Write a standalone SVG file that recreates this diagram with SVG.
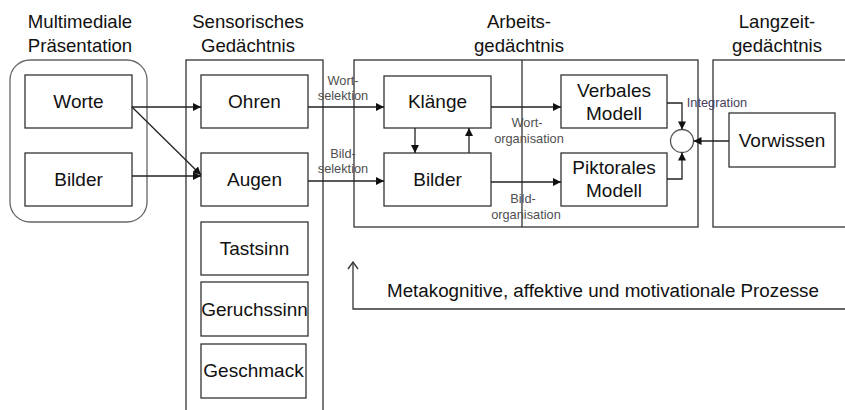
<svg xmlns="http://www.w3.org/2000/svg" width="845" height="410" viewBox="0 0 845 410">
<style>
text{font-family:"Liberation Sans",Arial,sans-serif;fill:#111}
.t{font-size:18.6px;text-anchor:middle}
.b{font-size:19px;text-anchor:middle}
.s{font-size:12.8px;text-anchor:middle;fill:#505050}
.box{fill:#fff;stroke:#333;stroke-width:1.3}
.cont{fill:none;stroke:#333;stroke-width:1.3}
.c{fill:none;stroke:#222;stroke-width:1.3}
</style>
<defs>
<marker id="ah" viewBox="0 0 10 10" refX="10" refY="5" markerWidth="9" markerHeight="8" markerUnits="userSpaceOnUse" orient="auto">
<path d="M0,0 L10,5 L0,10 z" fill="#111"/>
</marker>
<marker id="open" viewBox="0 0 12 10" refX="6" refY="1" markerWidth="12" markerHeight="10" markerUnits="userSpaceOnUse" orient="0">
<path d="M1,8 L6,1 L11,8" fill="none" stroke="#333" stroke-width="1.3"/>
</marker>
</defs>
<rect width="845" height="410" fill="#fff"/>

<g id="titles">
<text class="t" x="80" y="28">Multimediale</text>
<text class="t" x="80" y="52">Präsentation</text>
<text class="t" x="248" y="28">Sensorisches</text>
<text class="t" x="248" y="52">Gedächtnis</text>
<text class="t" x="519" y="28">Arbeits-</text>
<text class="t" x="519" y="52">gedächtnis</text>
<text class="t" x="777" y="28">Langzeit-</text>
<text class="t" x="777" y="52">gedächtnis</text>
</g>

<g id="containers">
<rect id="multimedia" class="cont" x="10" y="60" width="137" height="162" rx="20" ry="20" style="stroke:#666"/>
<rect id="sensorisch" class="cont" x="186" y="60" width="137" height="360"/>
<rect id="arbeit" class="cont" x="354" y="60" width="344" height="167"/>
<line class="cont" x1="522" y1="60" x2="522" y2="227"/>
<rect id="langzeit" class="cont" x="713" y="60" width="140" height="167"/>
</g>

<g id="worte"><rect class="box" x="25" y="75" width="107" height="53"/><text class="b" x="78.5" y="108">Worte</text></g>
<g id="bilder1"><rect class="box" x="25" y="153" width="107" height="53"/><text class="b" x="78.5" y="186">Bilder</text></g>
<g id="ohren"><rect class="box" x="201" y="75" width="107" height="53"/><text class="b" x="254.5" y="108">Ohren</text></g>
<g id="augen"><rect class="box" x="201" y="153" width="107" height="53"/><text class="b" x="254.5" y="186">Augen</text></g>
<g id="tastsinn"><rect class="box" x="201" y="222" width="107" height="53"/><text class="b" x="254.5" y="255">Tastsinn</text></g>
<g id="geruchssinn"><rect class="box" x="201" y="282" width="107" height="54"/><text class="b" x="254.5" y="316">Geruchssinn</text></g>
<g id="geschmack"><rect class="box" x="201" y="344" width="105" height="54"/><text class="b" x="253.5" y="377">Geschmack</text></g>
<g id="klaenge"><rect class="box" x="384" y="76" width="107" height="52"/><text class="b" x="437.5" y="108">Klänge</text></g>
<g id="bilder2"><rect class="box" x="384" y="153" width="107" height="53"/><text class="b" x="437.5" y="186">Bilder</text></g>
<g id="verbales"><rect class="box" x="561" y="75" width="106" height="53"/><text class="b" x="614" y="97">Verbales</text><text class="b" x="614" y="120">Modell</text></g>
<g id="piktorales"><rect class="box" x="561" y="153" width="106" height="53"/><text class="b" x="614" y="174">Piktorales</text><text class="b" x="614" y="197">Modell</text></g>
<g id="vorwissen"><rect class="box" x="729" y="113" width="106" height="54"/><text class="b" x="782" y="147">Vorwissen</text></g>
<g id="integration"><circle cx="682" cy="141" r="11.5" fill="#fff" stroke="#555" stroke-width="1.3"/></g>

<g id="connectors">
<line class="c" x1="132" y1="107" x2="201" y2="107" marker-end="url(#ah)"/>
<line class="c" x1="132" y1="107" x2="201" y2="175" marker-end="url(#ah)"/>
<line class="c" x1="132" y1="176" x2="201" y2="176" marker-end="url(#ah)"/>
<line class="c" x1="308" y1="107" x2="384" y2="107" marker-end="url(#ah)"/>
<line class="c" x1="308" y1="181" x2="384" y2="181" marker-end="url(#ah)"/>
<line class="c" x1="415" y1="128" x2="415" y2="153" marker-end="url(#ah)"/>
<line class="c" x1="469" y1="153" x2="469" y2="128" marker-end="url(#ah)"/>
<line class="c" x1="491" y1="107" x2="561" y2="107" marker-end="url(#ah)"/>
<line class="c" x1="491" y1="182" x2="561" y2="182" marker-end="url(#ah)"/>
<polyline class="c" points="667,103 682,103 682,129.5" marker-end="url(#ah)"/>
<polyline class="c" points="667,179 682,179 682,152.5" marker-end="url(#ah)"/>
<line class="c" x1="729" y1="141" x2="693.5" y2="141" marker-end="url(#ah)"/>
<polyline class="c" points="845,309 353,309 353,262" style="stroke:#333" marker-end="url(#open)"/>
</g>

<g id="labels">
<text class="s" x="343" y="85">Wort-</text>
<text class="s" x="343" y="100">selektion</text>
<text class="s" x="343" y="158">Bild-</text>
<text class="s" x="343" y="173">selektion</text>
<text class="s" x="527" y="127">Wort-</text>
<text class="s" x="529" y="143">organisation</text>
<text class="s" x="523" y="203">Bild-</text>
<text class="s" x="526" y="219">organisation</text>
<text class="s" x="717" y="107" style="fill:#4a3d5e">Integration</text>
<text x="387" y="297" style="font-size:18.8px">Metakognitive, affektive und motivationale Prozesse</text>
</g>
</svg>
